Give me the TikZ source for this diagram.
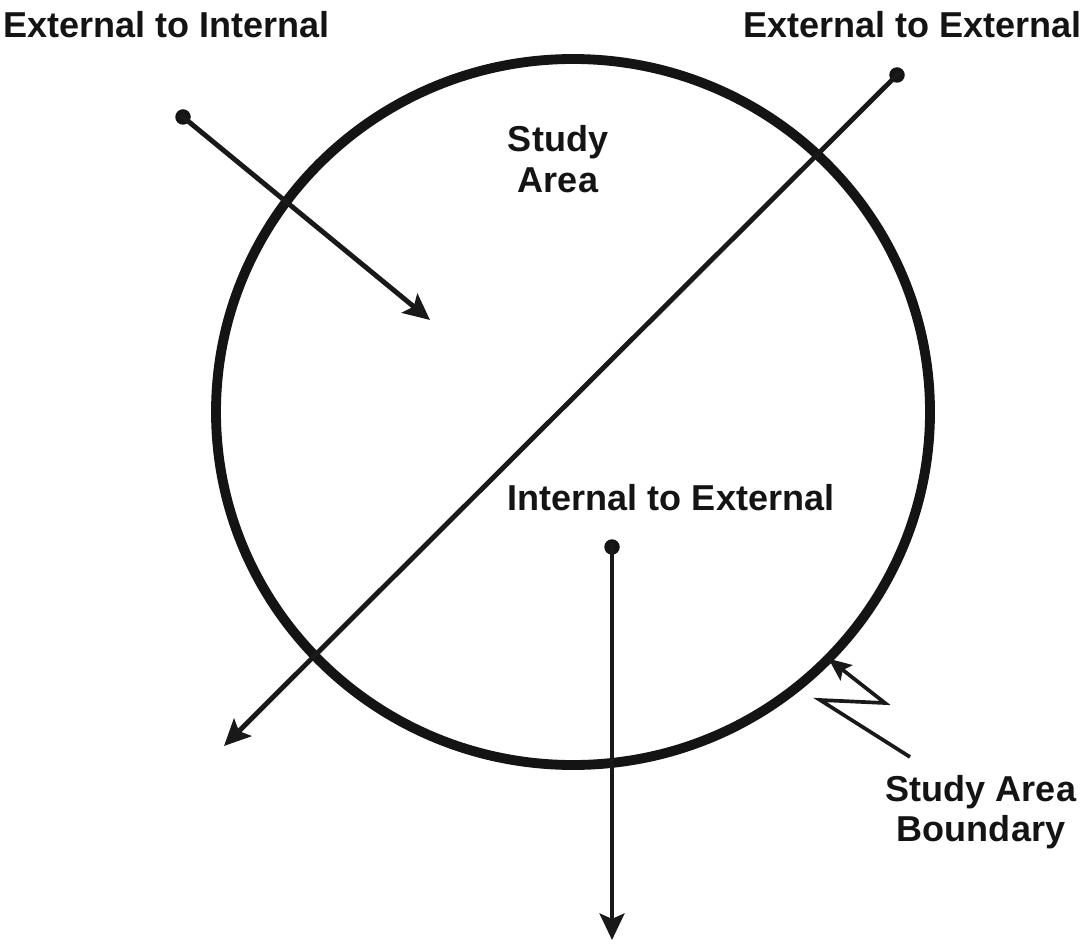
\documentclass[tikz,border=0pt]{standalone}
\usepackage{fontspec}
\setmainfont{Liberation Sans}
\usepackage{tikz}
\usetikzlibrary{shapes.geometric,arrows.meta,positioning}

\begin{document}
\begin{tikzpicture}[
  x=0.02cm, y=-0.02cm,
  plabel/.style={font=\fontsize{20.5}{24}\selectfont\bfseries,
    align=center, inner sep=0pt, text={rgb,255:red,20;green,20;blue,20}},
  pbound/.style={ellipse, draw={rgb,255:red,20;green,20;blue,20},
    line width=5.6pt, minimum width=714*0.02cm, minimum height=706*0.02cm,
    inner sep=0pt, outer sep=0pt},
  pdot/.style={circle, fill={rgb,255:red,20;green,20;blue,20},
    minimum size=0.31cm, inner sep=0pt},
  parr/.style={-{Stealth[length=15pt,width=14pt,inset=3pt]},
    line width=2.8pt, shorten <=-2pt,
    color={rgb,255:red,25;green,25;blue,25}},
  pzig/.style={-{Stealth[length=13pt,width=11pt,inset=2.5pt]},
    line width=2.1pt, line join=miter,
    color={rgb,255:red,25;green,25;blue,25}},
]
  \useasboundingbox (0,0) rectangle (1087,945);

  %% -- Study area --------------------------------------------
  \node[pbound] (area) at (573,412) {};
  \node[plabel] (study) at (558,159) {Study\\[-1pt]Area};

  %% -- Trip labels -------------------------------------------
  \node[plabel, anchor=west] (lblei) at (3,25) {External to Internal};
  \node[plabel, anchor=east] (lblee) at (1082,25) {External to External};
  \node[plabel] (lblie) at (671,498) {Internal to External};
  \node[plabel] (lblsab) at (981,812) {Study Area\\[-1pt]Boundary};

  %% -- Trip origins ------------------------------------------
  \node[pdot] (ei) at (183,117) {};
  \node[pdot] (ee) at (897,75) {};
  \node[pdot] (ie) at (612,547) {};

  \coordinate (eiend) at (430,320);
  \coordinate (eeend) at (224,746);
  \coordinate (ieend) at (612,940);

  %% -- Arrows ------------------------------------------------
  \foreach \f/\t in {ei/eiend, ee/eeend, ie/ieend}
    \draw[parr] (\f.center) -- (\t);

  %% -- Boundary pointer --------------------------------------
  \coordinate (zigA) at (910,757);
  \coordinate (zigB) at (820,700);
  \coordinate (zigC) at (885,703);
  \draw[pzig] (zigA) -- (zigB) -- (zigC) -- (area.-44);

\end{tikzpicture}
\end{document}
